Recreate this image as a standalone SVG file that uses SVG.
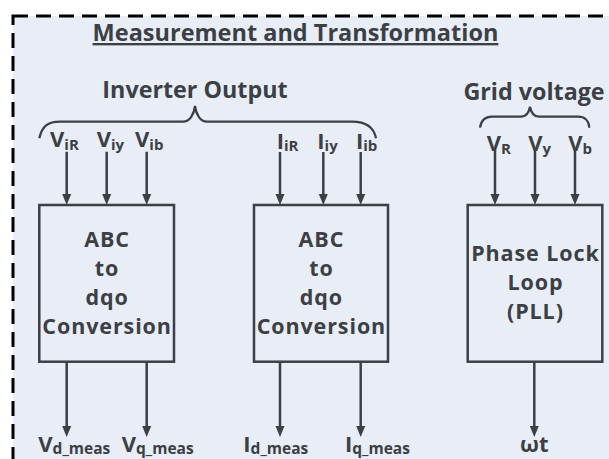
<svg xmlns="http://www.w3.org/2000/svg" xmlns:xlink="http://www.w3.org/1999/xlink" width="609" height="459" viewBox="0 0 609 459">
<style>
text{font-family:"Open Sans","DejaVu Sans",sans-serif;font-weight:700;fill:#3b3f46}
.title{font-size:23.5px;text-decoration:underline}
.hdr{font-size:23.3px}
.box{fill:none;stroke:#3b3f46;stroke-width:2.5}
.btxt{font-size:21.5px;letter-spacing:0.9px;text-anchor:middle}
.lbl{font-size:22px}
.sub{font-size:15px}
.olbl{font-size:22px}
.osub{font-size:15.5px}
.wire{stroke:#3b3f46;stroke-width:2.5;fill:none}
.brace{stroke:#3b3f46;stroke-width:2.2;fill:none}
</style>
<defs>
<path id="ah" d="M0,0 L-4.5,-11 L4.5,-11 Z" fill="#3b3f46"/>
</defs>
<rect x="0" y="0" width="609" height="459" fill="#ffffff"/>
<rect id="frame" x="13" y="16" width="640" height="480" fill="#e9edf5" stroke="#000" stroke-width="3" stroke-dasharray="15 8"/>
<text class="title" x="295.5" y="41" text-anchor="middle">Measurement and Transformation</text>

<g id="inverter-output">
<text class="hdr" x="195" y="98" text-anchor="middle">Inverter Output</text>
<path class="brace" d="M39.3,138.3 C42,126 48,121.7 60,121.7 L183,121.7 C190,121.7 194,114 195,106 C196,114 200,121.7 207,121.7 L352,121.7 C367,121.7 374,128 376,138.3"/>
</g>
<g id="grid-voltage">
<text class="hdr" x="534" y="100" text-anchor="middle">Grid voltage</text>
<path class="brace" d="M480,127.7 C481,121 485,116.7 492,116.7 L521,116.7 C527,116.7 529,112 530,106.7 C531,112 533,116.7 539,116.7 L578,116.7 C585,116.7 589,121 589.3,127.7"/>
</g>

<g id="labels-in">
<text class="lbl" x="50" y="147">V<tspan class="sub" dy="2.5">iR</tspan></text>
<text class="lbl" x="96.7" y="147">V<tspan class="sub" dy="2.5">iy</tspan></text>
<text class="lbl" x="135" y="147">V<tspan class="sub" dy="2.5">ib</tspan></text>
<text class="lbl" x="276.7" y="148.5">I<tspan class="sub" dy="2.5">iR</tspan></text>
<text class="lbl" x="317.3" y="148.5">I<tspan class="sub" dy="2.5">iy</tspan></text>
<text class="lbl" x="356" y="148.5">I<tspan class="sub" dy="2.5">ib</tspan></text>
<text class="lbl" x="486.7" y="151">V<tspan class="sub" dy="2.5">R</tspan></text>
<text class="lbl" x="528.3" y="151">V<tspan class="sub" dy="2.5">y</tspan></text>
<text class="lbl" x="568.3" y="151">V<tspan class="sub" dy="2.5">b</tspan></text>
</g>

<g id="abc-dqo-voltage">
<rect class="box" x="39.3" y="205" width="134.7" height="156.7"/>
<text class="btxt" x="107.1" y="246.5">ABC</text>
<text class="btxt" x="107.1" y="275.8">to</text>
<text class="btxt" x="107.1" y="305.1">dqo</text>
<text class="btxt" x="107.1" y="334.4">Conversion</text>
</g>
<g id="abc-dqo-current">
<rect class="box" x="254" y="205" width="134" height="156.7"/>
<text class="btxt" x="321.4" y="246.5">ABC</text>
<text class="btxt" x="321.4" y="275.8">to</text>
<text class="btxt" x="321.4" y="305.1">dqo</text>
<text class="btxt" x="321.4" y="334.4">Conversion</text>
</g>
<g id="pll">
<rect class="box" x="467.7" y="205" width="134.6" height="156.7"/>
<text class="btxt" x="535.4" y="260.7">Phase Lock</text>
<text class="btxt" x="535.4" y="290">Loop</text>
<text class="btxt" x="535.4" y="319.3">(PLL)</text>
</g>

<g id="connectors">
<path class="wire" d="M66.7,151.7V197 M106.7,151.7V197 M146.7,151.7V197 M280,152V197 M323.3,152V197 M360.7,152V197 M495,150V197 M535,150V197 M575,150V197"/>
<use xlink:href="#ah" x="66.7" y="205"/>
<use xlink:href="#ah" x="106.7" y="205"/>
<use xlink:href="#ah" x="146.7" y="205"/>
<use xlink:href="#ah" x="280" y="205"/>
<use xlink:href="#ah" x="323.3" y="205"/>
<use xlink:href="#ah" x="360.7" y="205"/>
<use xlink:href="#ah" x="495" y="205"/>
<use xlink:href="#ah" x="535" y="205"/>
<use xlink:href="#ah" x="575" y="205"/>
<path class="wire" d="M66.7,362V429 M146.7,362V429 M280,362V429 M360.7,362V429 M534.3,362V429"/>
<use xlink:href="#ah" x="66.7" y="437"/>
<use xlink:href="#ah" x="146.7" y="437"/>
<use xlink:href="#ah" x="280" y="437"/>
<use xlink:href="#ah" x="360.7" y="437"/>
<use xlink:href="#ah" x="534.3" y="437"/>
</g>

<g id="labels-out">
<text class="olbl" x="38.3" y="451.7">V<tspan class="osub" dy="2">d_meas</tspan></text>
<text class="olbl" x="121.7" y="451.7">V<tspan class="osub" dy="2">q_meas</tspan></text>
<text class="olbl" x="243.3" y="451.7">I<tspan class="osub" dy="2">d_meas</tspan></text>
<text class="olbl" x="345" y="451.7">I<tspan class="osub" dy="2">q_meas</tspan></text>
<text class="olbl" x="534.3" y="452" text-anchor="middle">ωt</text>
</g>
</svg>
